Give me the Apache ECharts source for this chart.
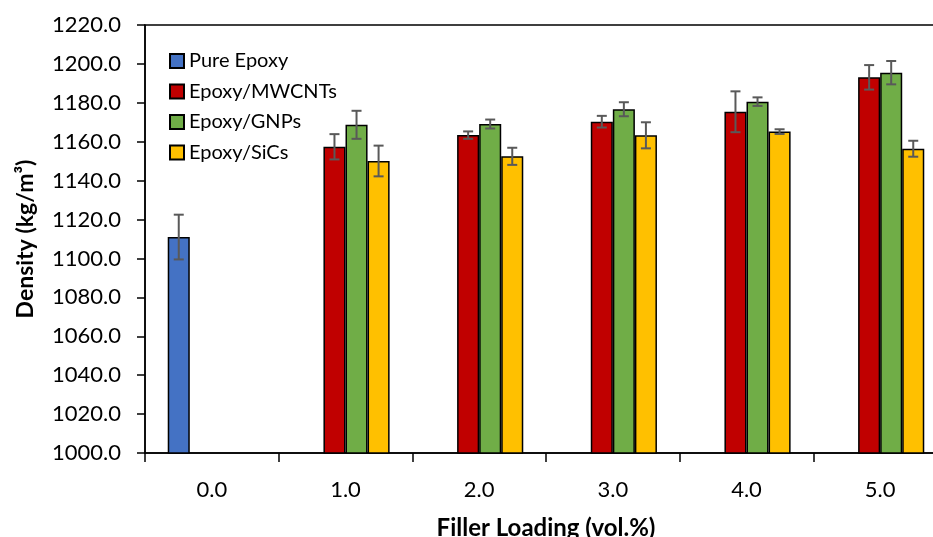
<!DOCTYPE html>
<html><head><meta charset="utf-8">
<script src="https://cdn.jsdelivr.net/npm/echarts@6/dist/echarts.min.js"></script>
<style>html,body{margin:0;padding:0;overflow:hidden;background:#fff}#c{width:950px;height:537px}</style>
</head><body><div id="c"></div>
<script>
const categories = ['0.0','1.0','2.0','3.0','4.0','5.0'];
const seriesNames = ['Pure Epoxy','Epoxy/MWCNTs','Epoxy/GNPs','Epoxy/SiCs'];
const pureEpoxy    = [1111.0, null, null, null, null, null];
const pureEpoxyErr = [11.5, null, null, null, null, null];
const mwcnts       = [null, 1157.4, 1163.4, 1170.3, 1175.4, 1193.1];
const mwcntsErr    = [null, 6.5, 1.9, 3.0, 10.5, 6.3];
const gnps         = [null, 1168.7, 1169.1, 1176.7, 1180.6, 1195.5];
const gnpsErr      = [null, 7.2, 2.3, 3.6, 2.2, 6.0];
const sics         = [null, 1150.1, 1152.5, 1163.3, 1165.2, 1156.4];
const sicsErr      = [null, 7.9, 4.4, 6.7, 1.2, 4.1];
const yTicks = [1000,1020,1040,1060,1080,1100,1120,1140,1160,1180,1200,1220];

const colors = ['#4472C4','#C00000','#70AD47','#FFC000'];
const values = [pureEpoxy, mwcnts, gnps, sics];
const errs = [pureEpoxyErr, mwcntsErr, gnpsErr, sicsErr];
const catGap = 0.34;
const font = 'Lato';

const series = [];
values.forEach((v, i) => {
  series.push({
    name: seriesNames[i], type: 'bar', data: v,
    barGap: '0%', barCategoryGap: (catGap*100)+'%',
    itemStyle: {color: colors[i], borderColor: '#000', borderWidth: 1.5},
    emphasis: {disabled: true}
  });
});
values.forEach((v, i) => {
  const data = [];
  v.forEach((val, k) => { if (val != null) data.push([k, val, errs[i][k]]); });
  series.push({
    type: 'custom', data: data, z: 10, silent: true,
    renderItem: function (params, api) {
      const k = api.value(0), val = api.value(1), e = api.value(2);
      const w = api.size([1, 0])[0];
      const bw = w * (1 - catGap) / 4;
      const c = api.coord([k, val]);
      const x = c[0] - w * (1 - catGap) / 2 + bw * (i + 0.5);
      const yt = api.coord([k, val + e])[1];
      const yb = api.coord([k, val - e])[1];
      const cap = 5;
      const st = {stroke: '#595959', lineWidth: 2};
      return {type: 'group', children: [
        {type: 'line', shape: {x1: x, y1: yt, x2: x, y2: yb}, style: st},
        {type: 'line', shape: {x1: x - cap, y1: yt, x2: x + cap, y2: yt}, style: st},
        {type: 'line', shape: {x1: x - cap, y1: yb, x2: x + cap, y2: yb}, style: st}
      ]};
    }
  });
});

const chart = echarts.init(document.getElementById('c'));
chart.setOption({
  animation: false,
  grid: {left: 145, top: 25, right: 3, bottom: 84, outerBoundsMode: 'none', containLabel: false,
         show: true, borderColor: '#000', borderWidth: 1.5, backgroundColor: 'transparent'},
  legend: {
    data: seriesNames, orient: 'vertical', left: 164, top: 46,
    itemWidth: 14, itemHeight: 14, itemGap: 10.5,
    textStyle: {fontFamily: font, fontSize: 20, lineHeight: 20, color: '#000'},
    icon: 'rect'
  },
  xAxis: {
    type: 'category', data: categories,
    name: 'Filler Loading (vol.%)', nameLocation: 'middle', nameGap: 63,
    nameTextStyle: {fontFamily: font, fontSize: 24, fontWeight: 'bold', color: '#000'},
    axisLine: {lineStyle: {color: '#000', width: 1.5}},
    axisTick: {show: true, length: 9, lineStyle: {color: '#000', width: 1.5}, alignWithLabel: false},
    axisLabel: {fontFamily: font, fontSize: 22, color: '#000', margin: 26}
  },
  yAxis: {
    type: 'value', min: 1000, max: 1220, interval: 20,
    name: 'Density (kg/m³)', nameLocation: 'middle', nameGap: 108,
    nameTextStyle: {fontFamily: font, fontSize: 23, fontWeight: 'bold', color: '#000'},
    splitLine: {show: false},
    axisLine: {show: true, lineStyle: {color: '#000', width: 1.5}},
    axisTick: {show: true, length: 8, lineStyle: {color: '#000', width: 1.5}},
    axisLabel: {fontFamily: font, fontSize: 22, color: '#000', margin: 24,
      formatter: v => yTicks.includes(v) ? v.toFixed(1) : ''}
  },
  series: series
});
</script></body></html>
